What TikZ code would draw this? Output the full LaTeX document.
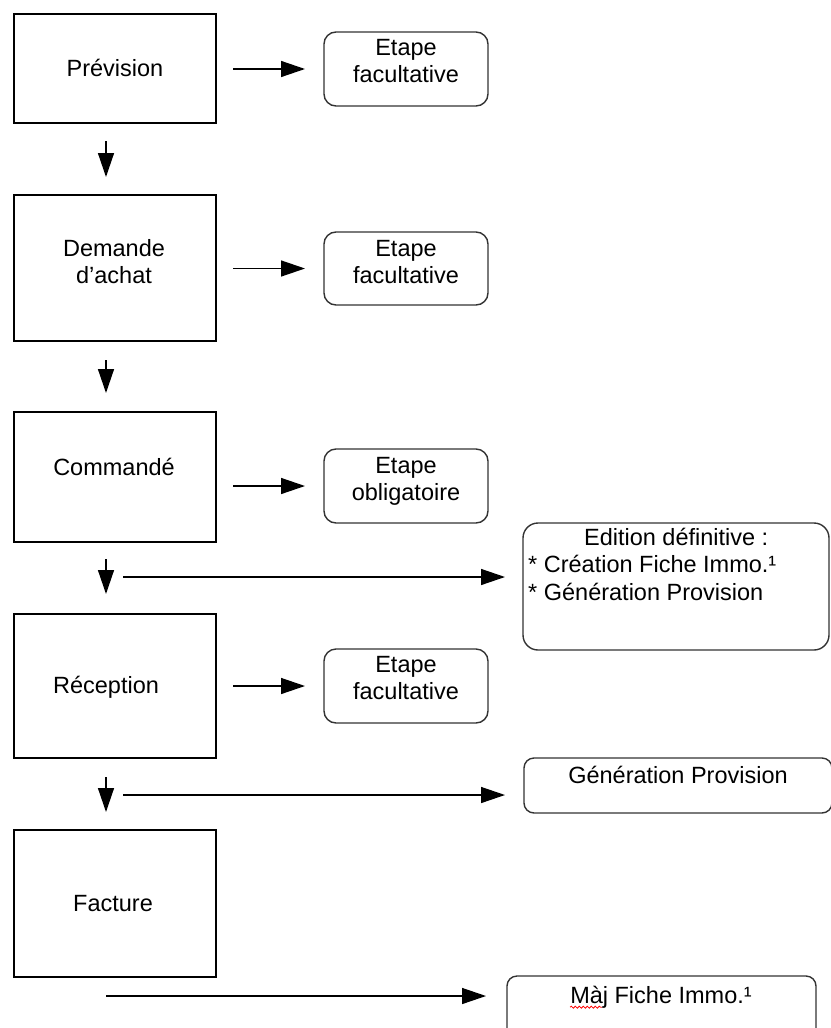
\documentclass[tikz,border=0pt]{standalone}
\usepackage{fontspec}
\setmainfont{Liberation Sans}
\usetikzlibrary{arrows.meta,decorations.pathmorphing}
\newcommand\firststrut{\rule{0pt}{18pt}}
\begin{document}
\begin{tikzpicture}[x=1pt,y=-1pt,
  every node/.style={font=\fontsize{23.5}{27.5}\selectfont},
  procbox/.style={draw=black, line width=1.4pt, inner sep=0pt, outer sep=0pt, minimum width=202pt},
  stepbox/.style={draw=black!80, line width=1.4pt, rounded corners=12pt, inner sep=0pt, outer sep=0pt},
  txt/.style={anchor=north, inner sep=0pt, align=center},
  arr/.style={line width=1.4pt, -{Triangle[length=24pt,width=16pt]}},
]
\useasboundingbox (0,0) rectangle (830,1028);
% main process boxes
\node[procbox, minimum height=109pt] (b1) at (115,68.5) {};
\node[procbox, minimum height=146pt] (b2) at (115,268) {};
\node[procbox, minimum height=130pt] (b3) at (115,477) {};
\node[procbox, minimum height=144pt] (b4) at (115,686) {};
\node[procbox, minimum height=147pt] (b5) at (115,903.5) {};
\node[txt] (t1) at (115,58) {\firststrut Prévision};
\node[txt] (t2) at (114,238) {\firststrut Demande\\d’achat};
\node[txt] (t3) at (114,457) {\firststrut Commandé};
\node[txt] (t4) at (106,675) {\firststrut Réception};
\node[txt] (t5) at (113,893) {\firststrut Facture};
% step boxes
\node[stepbox, minimum width=164pt, minimum height=74pt] (r1) at (406,69) {};
\node[stepbox, minimum width=164pt, minimum height=73pt] (r2) at (406,268.5) {};
\node[stepbox, minimum width=164pt, minimum height=74pt] (r3) at (406,486) {};
\node[stepbox, minimum width=164pt, minimum height=74pt] (r4) at (406,686) {};
\node[txt] (e1) at (406,37) {\firststrut Etape\\facultative};
\node[txt] (e2) at (406,238) {\firststrut Etape\\facultative};
\node[txt] (e3) at (406,455) {\firststrut Etape\\obligatoire};
\node[txt] (e4) at (406,654) {\firststrut Etape\\facultative};
% result boxes
\node[stepbox, rounded corners=15pt, minimum width=306pt, minimum height=127pt] (big) at (676,586.5) {};
\node[stepbox, rounded corners=10pt, minimum width=308pt, minimum height=55pt] (gen) at (678,785.5) {};
\node[stepbox, rounded corners=10pt, minimum width=309pt, minimum height=69pt] (maj) at (661.5,1010.5) {};
\node[anchor=north west, inner sep=0pt, align=left] (ed) at (528,527)
  {\makebox[296pt][c]{\firststrut Edition définitive :}\\* Création Fiche Immo.¹\\* Génération Provision};
\node[txt] (g1) at (678,765) {\firststrut Génération Provision};
\node[txt] (m1) at (661,985) {\firststrut Màj Fiche Immo.¹};
\draw[red, line width=0.8pt, decorate, decoration={snake, amplitude=1pt, segment length=4pt}]
  ([xshift=0pt,yshift=-4pt]m1.base west) -- ([xshift=32pt,yshift=-4pt]m1.base west);
% horizontal arrows to step boxes
\draw[arr, shorten <=17pt, shorten >=19pt] (b1.east |- r1.west) -- (r1.west);
\draw[arr, shorten <=17pt, shorten >=19pt] (b2.east |- r2.west) -- (r2.west);
\draw[arr, shorten <=17pt, shorten >=19pt] (b3.east |- r3.west) -- (r3.west);
\draw[arr, shorten <=17pt, shorten >=19pt] (b4.east |- r4.west) -- (r4.west);
% vertical arrows
\draw[arr, shorten <=18pt, shorten >=18pt] ([xshift=-9pt]b1.south) -- ([xshift=-9pt]b2.north);
\draw[arr, shorten <=19pt, shorten >=19pt] ([xshift=-9pt]b2.south) -- ([xshift=-9pt]b3.north);
\draw[arr, shorten <=17pt, shorten >=20pt] ([xshift=-9pt]b3.south) -- ([xshift=-9pt]b4.north);
\draw[arr, shorten <=19pt, shorten >=18pt] ([xshift=-9pt]b4.south) -- ([xshift=-9pt]b5.north);
% long arrows
\coordinate (s1) at (123,577);
\coordinate (s2) at (123,795);
\coordinate (s3) at (106,996);
\draw[arr, shorten >=18pt] (s1) -- (s1 -| big.west);
\draw[arr, shorten >=19pt] (s2) -- (s2 -| gen.west);
\draw[arr, shorten >=21pt] (s3) -- (s3 -| maj.west);
\end{tikzpicture}
\end{document}
